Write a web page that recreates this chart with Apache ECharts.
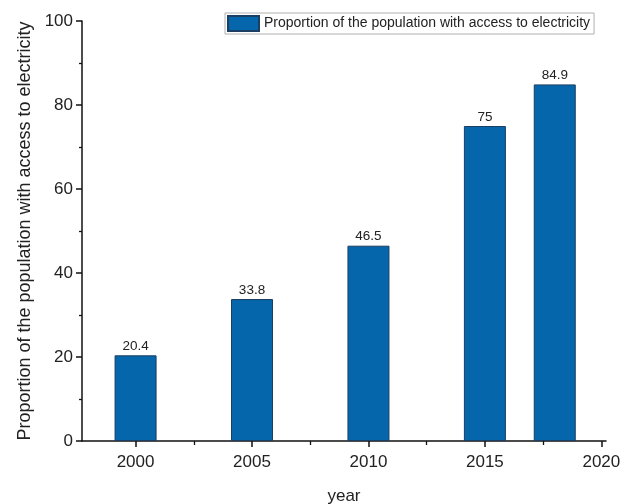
<!DOCTYPE html>
<html><head><meta charset="utf-8">
<script src="https://cdn.jsdelivr.net/npm/echarts@6/dist/echarts.min.js"></script>
<style>html,body{margin:0;padding:0;background:#fff}#c{width:634px;height:504px}</style>
</head><body><div id="c"></div>
<script>
const years = [2000, 2005, 2010, 2015, 2018];
const values = [20.4, 33.8, 46.5, 75, 84.9];
const xTicks = [2000, 2005, 2010, 2015, 2020];
const xMinorTicks = [2002.5, 2007.5, 2012.5, 2017.5];
const yTicks = [0, 20, 40, 60, 80, 100];
const seriesName = 'Proportion of the population with access to electricity';

const chart = echarts.init(document.getElementById('c'));
const font = 'Liberation Sans, Arial, sans-serif';
const xMin = 1997.7, xMax = 2020.2;
chart.setOption({
  animation: false,
  grid: {left: 82, right: 28, top: 21, bottom: 63, containLabel: false, outerBoundsMode: 'none'},
  legend: {
    data: [{name: seriesName, icon: 'rect'}], top: 13, left: 225,
    itemWidth: 31, itemHeight: 15, itemGap: 4,
    padding: [2, 4, 2, 2],
    borderColor: '#b0b0b0', borderWidth: 1,
    textStyle: {fontFamily: font, fontSize: 14, color: '#222'}
  },
  xAxis: [{
    type: 'value', min: xMin, max: xMax,
    name: 'year', nameLocation: 'middle', nameGap: 47,
    nameTextStyle: {fontFamily: font, fontSize: 17, color: '#222'},
    axisLine: {show: true, lineStyle: {color: '#111', width: 1.5}},
    axisTick: {show: true, inside: false, length: 6, lineStyle: {color: '#111', width: 1.5}, customValues: xTicks},
    axisLabel: {fontFamily: font, fontSize: 17, color: '#222', margin: 13, customValues: xTicks,
      formatter: v => String(v)},
    splitLine: {show: false}
  }, {
    type: 'value', min: xMin, max: xMax, position: 'bottom',
    axisLine: {show: false},
    axisTick: {show: true, inside: false, length: 4, lineStyle: {color: '#111', width: 1.3}, customValues: xMinorTicks},
    axisLabel: {show: false, customValues: xMinorTicks},
    splitLine: {show: false}
  }],
  yAxis: {
    type: 'value', min: 0, max: 100, interval: 20,
    name: 'Proportion of the population with access to electricity',
    nameLocation: 'middle', nameGap: 47,
    nameTextStyle: {fontFamily: font, fontSize: 18, color: '#222'},
    axisLine: {show: true, lineStyle: {color: '#111', width: 1.5}},
    axisTick: {show: true, inside: false, length: 6, lineStyle: {color: '#111', width: 1.5}},
    minorTick: {show: true, splitNumber: 2, length: 3, lineStyle: {color: '#111', width: 1.3}},
    axisLabel: {fontFamily: font, fontSize: 17, color: '#222', margin: 9},
    splitLine: {show: false}
  },
  series: [{
    name: seriesName, type: 'bar', xAxisIndex: 0,
    data: years.map((y, i) => [y, values[i]]),
    barWidth: 42,
    itemStyle: {color: '#0566ab', borderColor: '#1b3e62', borderWidth: 1},
    label: {show: true, position: 'top', distance: 2, fontFamily: font, fontSize: 13.5, color: '#222'}
  }]
});
</script></body></html>
